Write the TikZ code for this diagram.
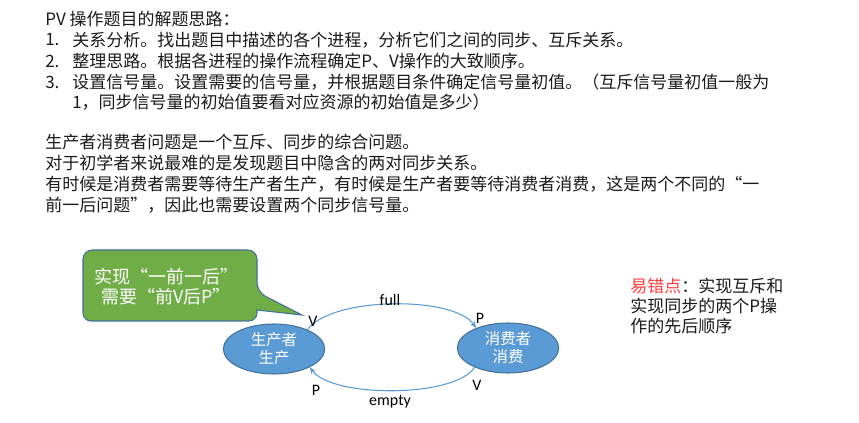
\documentclass[tikz,border=0pt]{standalone}
\usepackage{fontspec}
\setmainfont{Noto Sans CJK SC}
\newfontfamily\calfont{Carlito}
\usetikzlibrary{shapes.geometric,arrows.meta}
\definecolor{txtc}{HTML}{1A1A1A}
\definecolor{greenf}{HTML}{70AD47}
\definecolor{bluef}{HTML}{5B9BD5}
\definecolor{blueb}{HTML}{41719C}
\definecolor{redt}{HTML}{FF3B3B}
\tikzset{
  line/.style={anchor=west,inner sep=0pt,text=txtc,font=\fontsize{12.75pt}{15pt}\selectfont},
  proc/.style={ellipse,draw=blueb,fill=bluef,line width=0.8pt,minimum width=76pt,minimum height=37.5pt,inner sep=0pt,text=white,align=center,font=\fontsize{11.6pt}{13.5pt}\selectfont},
  lbl/.style={inner sep=0pt,text=black,font=\calfont\fontsize{12pt}{14pt}\selectfont},
  conn/.style={draw=bluef,line width=0.8pt,-{Stealth[length=5pt,width=4pt]}},
  callout/.style={draw=blueb,fill=greenf,line width=0.8pt}
}
\begin{document}
\begin{tikzpicture}[x=0.75pt,y=-0.75pt]
\useasboundingbox (0,0) rectangle (859,423);
% top text block
\node[line] (t0) at (45,19) {PV 操作题目的解题思路：};
\node[line] (n1) at (45,40) {1.};
\node[line] (t1) at (72,40) {关系分析。找出题目中描述的各个进程，分析它们之间的同步、互斥关系。};
\node[line] (n2) at (45,61) {2.};
\node[line] (t2) at (72,61) {整理思路。根据各进程的操作流程确定P、V操作的大致顺序。};
\node[line] (n3) at (45,82) {3.};
\node[line] (t3) at (72,82) {设置信号量。设置需要的信号量，并根据题目条件确定信号量初值。（互斥信号量初值一般为};
\node[line] (t3b) at (72,102) {1，同步信号量的初始值要看对应资源的初始值是多少）};
% second block
\node[line] (s1) at (45,142) {生产者消费者问题是一个互斥、同步的综合问题。};
\node[line] (s2) at (45,163) {对于初学者来说最难的是发现题目中隐含的两对同步关系。};
\node[line] (s3) at (45,184) {有时候是消费者需要等待生产者生产，有时候是生产者要等待消费者消费，这是两个不同的“一};
\node[line] (s4) at (45,205) {前一后问题”，因此也需要设置两个同步信号量。};
% callout
\draw[callout,rounded corners=7pt] (83,285) -- (83,250) -- (257,250) -- (257,292) [sharp corners] -- (302,315) -- (257,310) [rounded corners=6pt] -- (257,321) -- (83,321) -- cycle;
\node[inner sep=0pt,text=white,align=center,font=\fontsize{13.5pt}{15pt}\selectfont] (co) at (166,287) {实现“一前一后”\\需要“前V后P”};
% processes
\node[proc] (prod) at (274,349) {生产者\\生产};
\node[proc] (cons) at (508,348) {消费者\\消费};
% connectors
\draw[conn] (prod.30) .. controls (332,296) and (455,296) .. (cons.148);
\draw[conn] (cons.210) .. controls (455,398) and (332,398) .. (prod.-27);
\node[lbl] (full) at (390,300) {full};
\node[lbl] (empty) at (390,402) {empty};
\node[lbl] (v1) at (313,321) {V};
\node[lbl] (p1) at (480,318) {P};
\node[lbl] (p2) at (316,390) {P};
\node[lbl] (v2) at (477,385) {V};
% right note
\node[anchor=north west,inner sep=0pt,text=txtc,align=left,font=\fontsize{12.75pt}{15pt}\selectfont] (note) at (630,278) {\textcolor{redt}{易错点}：实现互斥和\\实现同步的两个P操\\作的先后顺序};
\end{tikzpicture}
\end{document}
